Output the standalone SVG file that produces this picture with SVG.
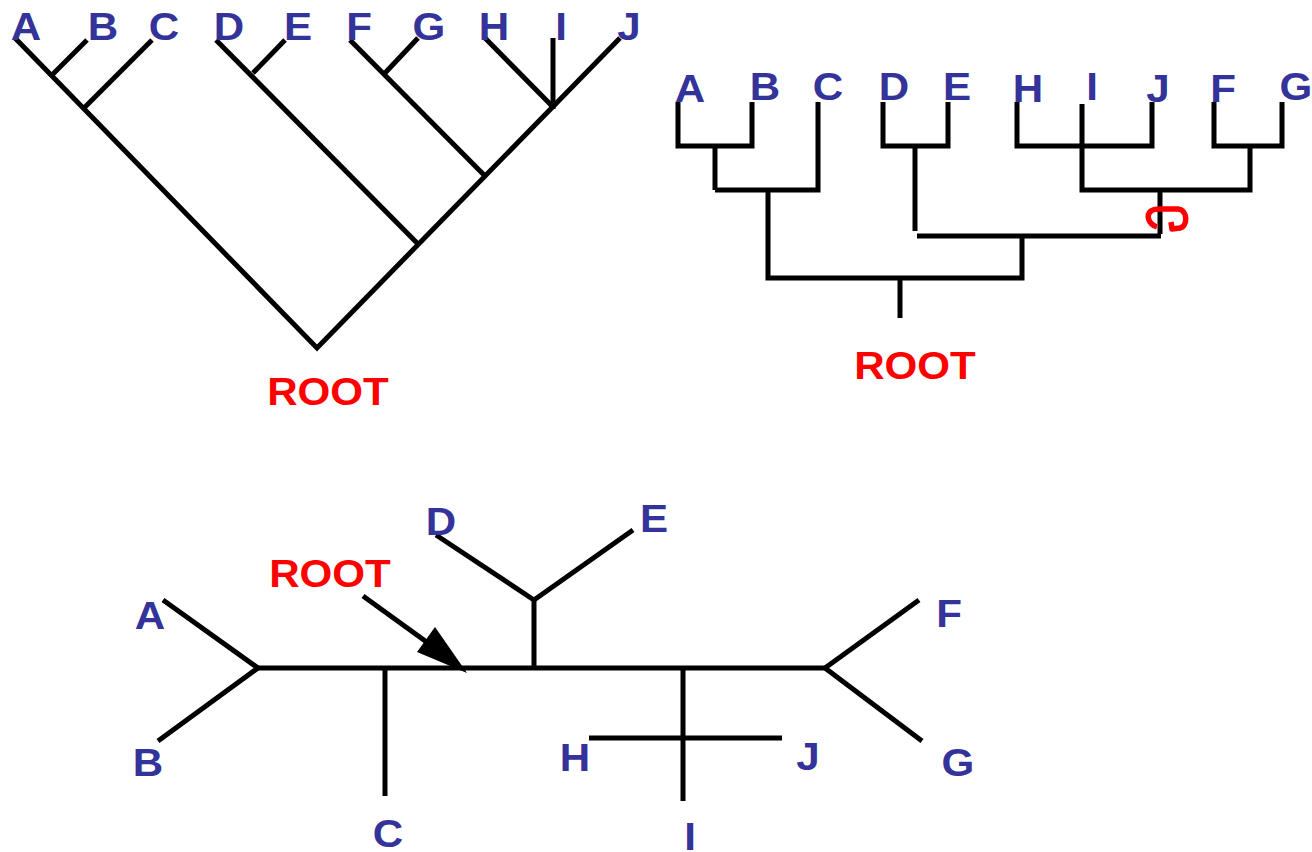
<svg xmlns="http://www.w3.org/2000/svg" width="1312" height="852" viewBox="0 0 1312 852">
<defs>
<style>
.e{stroke:#000;stroke-width:5;fill:none;stroke-linecap:butt}
.lb{font-family:"Liberation Sans",Arial,sans-serif;font-weight:bold;font-size:39px;fill:#333399;text-anchor:middle}
.rt{font-family:"Liberation Sans",Arial,sans-serif;font-weight:bold;font-size:39px;fill:#ff0000;text-anchor:middle}
</style>
</defs>
<rect width="1312" height="852" fill="#fff"/>
<g id="connectors">
<path class="e" d="M15,38 L317,348 L620,38"/>
<path class="e" d="M87,40 L53,74"/>
<path class="e" d="M152,40 L85,107"/>
<path class="e" d="M216,40 L418,244"/>
<path class="e" d="M285,40 L253,73"/>
<path class="e" d="M350,40 L485,176"/>
<path class="e" d="M418,38 L385,73"/>
<path class="e" d="M485,38 L553,107"/>
<path class="e" d="M553,38 L553,109"/>
<path class="e" d="M678,102 V146 H752 V102"/>
<path class="e" d="M715,146 V190"/>
<path class="e" d="M818,102 V190 H715"/>
<path class="e" d="M768,190 V278 H1022 V236"/>
<path class="e" d="M883,102 V146 H948 V102"/>
<path class="e" d="M915,146 V231"/>
<path class="e" d="M917,236 H1161"/>
<path class="e" d="M1017,102 V146 H1152 V102"/>
<path class="e" d="M1082,104 V190 H1250 V146"/>
<path class="e" d="M1214,102 V146 H1282 V102"/>
<path class="e" d="M1160,190 V234"/>
<path class="e" d="M900,278 V318"/>
<path d="M1157,227 C1148,224 1146,215 1151,211 C1154,208 1160,209 1166,209 L1178,209 C1188,210 1188,226 1180,228 L1172,229 L1171,222" fill="none" stroke="#ff0000" stroke-width="5.5" stroke-linejoin="round"/>
<path class="e" d="M258,668 H825"/>
<path class="e" d="M163,600 L258,668 L158,741"/>
<path class="e" d="M385,668 V796"/>
<path class="e" d="M534,668 V600"/>
<path class="e" d="M436,535 L534,600 L633,530"/>
<path class="e" d="M683,668 V801"/>
<path class="e" d="M589,738 H782"/>
<path class="e" d="M919,600 L825,668 L922,741"/>
<path class="e" d="M363,596 L428,643"/>
<polygon points="435,627 417,652 467,673" fill="#000"/>
</g>
<g id="tl-labels">
<text class="lb" transform="translate(26,40) scale(1.08,1)">A</text>
<text class="lb" transform="translate(103,40) scale(1.08,1)">B</text>
<text class="lb" transform="translate(164,40) scale(1.08,1)">C</text>
<text class="lb" transform="translate(229,40) scale(1.08,1)">D</text>
<text class="lb" transform="translate(298,40) scale(1.08,1)">E</text>
<text class="lb" transform="translate(359,40) scale(1.08,1)">F</text>
<text class="lb" transform="translate(429,40) scale(1.08,1)">G</text>
<text class="lb" transform="translate(494,40) scale(1.08,1)">H</text>
<text class="lb" transform="translate(561,40) scale(1.08,1)">I</text>
<text class="lb" transform="translate(629,40) scale(1.08,1)">J</text>
<text class="rt" transform="translate(328,405) scale(1.08,1)">ROOT</text>
</g>
<g id="tr-labels">
<text class="lb" transform="translate(690,102) scale(1.08,1)">A</text>
<text class="lb" transform="translate(765,100) scale(1.08,1)">B</text>
<text class="lb" transform="translate(828,100) scale(1.08,1)">C</text>
<text class="lb" transform="translate(894,100) scale(1.08,1)">D</text>
<text class="lb" transform="translate(957,100) scale(1.08,1)">E</text>
<text class="lb" transform="translate(1028,102) scale(1.08,1)">H</text>
<text class="lb" transform="translate(1092,100) scale(1.08,1)">I</text>
<text class="lb" transform="translate(1158,102) scale(1.08,1)">J</text>
<text class="lb" transform="translate(1223,102) scale(1.08,1)">F</text>
<text class="lb" transform="translate(1296,100) scale(1.08,1)">G</text>
<text class="rt" transform="translate(915,379) scale(1.08,1)">ROOT</text>
</g>
<g id="b-labels">
<text class="lb" transform="translate(150,629) scale(1.08,1)">A</text>
<text class="lb" transform="translate(148,776) scale(1.08,1)">B</text>
<text class="lb" transform="translate(388,847) scale(1.08,1)">C</text>
<text class="lb" transform="translate(441,535) scale(1.08,1)">D</text>
<text class="lb" transform="translate(654,532) scale(1.08,1)">E</text>
<text class="lb" transform="translate(949,627) scale(1.08,1)">F</text>
<text class="lb" transform="translate(958,776) scale(1.08,1)">G</text>
<text class="lb" transform="translate(575,771) scale(1.08,1)">H</text>
<text class="lb" transform="translate(690,850) scale(1.08,1)">I</text>
<text class="lb" transform="translate(808,770) scale(1.08,1)">J</text>
<text class="rt" transform="translate(330,587) scale(1.08,1)">ROOT</text>
</g>
</svg>
